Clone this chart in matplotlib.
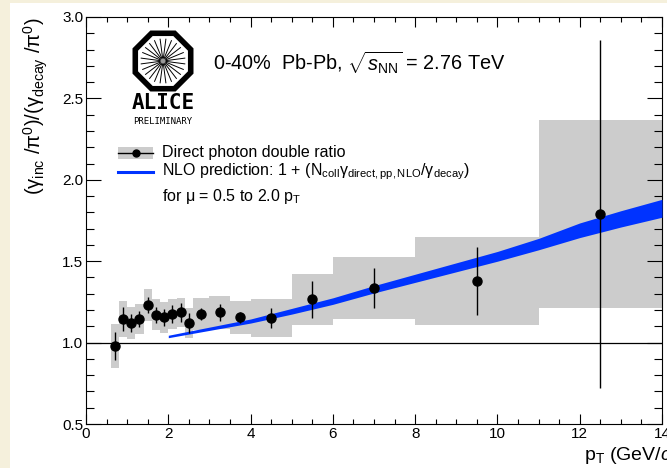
import numpy as np
import matplotlib
matplotlib.use("Agg")
import matplotlib.pyplot as plt
from matplotlib.patches import Rectangle, RegularPolygon, Circle
from matplotlib.ticker import MultipleLocator

plt.rcParams['font.family'] = ['Liberation Sans', 'DejaVu Sans']
plt.rcParams['mathtext.fontset'] = 'custom'
plt.rcParams['mathtext.rm'] = 'Liberation Sans'
plt.rcParams['mathtext.it'] = 'Liberation Sans:italic'
plt.rcParams['mathtext.bf'] = 'Liberation Sans:bold'

# direct photon double ratio, 0-40% Pb-Pb
pt = [0.7, 0.9, 1.1, 1.3, 1.5, 1.7, 1.9, 2.1, 2.3, 2.5, 2.8, 3.25, 3.75,
      4.5, 5.5, 7.0, 9.5, 12.5]
bin_lo = [0.6, 0.8, 1.0, 1.2, 1.4, 1.6, 1.8, 2.0, 2.2, 2.4, 2.6, 3.0, 3.5,
          4.0, 5.0, 6.0, 8.0, 11.0]
bin_hi = [0.8, 1.0, 1.2, 1.4, 1.6, 1.8, 2.0, 2.2, 2.4, 2.6, 3.0, 3.5, 4.0,
          5.0, 6.0, 8.0, 11.0, 14.0]
ratio = [0.98, 1.145, 1.12, 1.145, 1.23, 1.17, 1.155, 1.175, 1.185, 1.12,
         1.175, 1.185, 1.155, 1.15, 1.265, 1.335, 1.38, 1.79]
stat_err = [0.085, 0.075, 0.055, 0.05, 0.05, 0.05, 0.052, 0.056, 0.06,
            0.06, 0.036, 0.053, 0.035, 0.06, 0.113, 0.121, 0.21, 1.07]
sys_err = [0.135, 0.11, 0.1, 0.09, 0.1, 0.095, 0.095, 0.09, 0.09, 0.09,
           0.1, 0.1, 0.1, 0.116, 0.155, 0.19, 0.27, 0.58]

# NLO band (mu = 0.5 .. 2.0 pT)
nlo_pt = [2, 3, 4, 5, 6, 7, 8, 9, 10, 11, 12, 13, 14]
nlo_lo = [1.030, 1.075, 1.120, 1.175, 1.235, 1.305, 1.370, 1.435, 1.500,
          1.570, 1.645, 1.710, 1.770]
nlo_hi = [1.045, 1.095, 1.145, 1.210, 1.275, 1.350, 1.420, 1.490, 1.560,
          1.640, 1.735, 1.810, 1.880]

W, H = 667, 468
fig = plt.figure(figsize=(W / 100, H / 100), dpi=100)
fig.patch.set_facecolor('#f5f0dc')
fig.patches.append(Rectangle((10 / W, 0), 1, (H - 3) / H, transform=fig.transFigure,
                             facecolor='white', edgecolor='none', zorder=-10))

ax = fig.add_axes([86 / W, (H - 424) / H, 576 / W, 407 / H])
ax.set_facecolor('white')

grey = '#cccccc'
blue = '#0033ff'

for lo, hi, y, s in zip(bin_lo, bin_hi, ratio, sys_err):
    ax.add_patch(Rectangle((lo, y - s), hi - lo, 2 * s, facecolor=grey,
                           edgecolor='none', zorder=1))

ax.axhline(1.0, color='black', lw=0.9, zorder=2)
ax.fill_between(nlo_pt, nlo_lo, nlo_hi, color=blue, lw=0, zorder=3)
ax.errorbar(pt, ratio, yerr=stat_err, fmt='o', color='black', ms=6.5,
            elinewidth=1.0, capsize=0, zorder=4)

ax.set_xlim(0, 14)
ax.set_ylim(0.5, 3.0)
ax.xaxis.set_major_locator(MultipleLocator(2))
ax.xaxis.set_minor_locator(MultipleLocator(0.5))
ax.yaxis.set_major_locator(MultipleLocator(0.5))
ax.yaxis.set_minor_locator(MultipleLocator(0.1))
ax.set_yticklabels([f'{v:.1f}' for v in ax.get_yticks()])
ax.tick_params(axis='both', which='both', direction='in', top=True, right=True,
               labelsize=11, width=0.8)
ax.tick_params(axis='y', which='major', length=11, pad=2)
ax.tick_params(axis='y', which='minor', length=5.5)
ax.tick_params(axis='x', which='major', length=7.5, pad=2)
ax.tick_params(axis='x', which='minor', length=3.8)
for sp in ax.spines.values():
    sp.set_linewidth(0.8)

# axis titles
fig.text(36 / W, (H - 17) / H,
         r'(γ$_{\rm inc}$ /π$^{\rm 0}$)/(γ$_{\rm decay}$ /π$^{\rm 0}$)',
         rotation=90, ha='center', va='top', fontsize=14.5)
fig.text(584 / W, (H - 455) / H, r'p$_{\rm T}$ (GeV/$c$)', ha='left', va='center',
         fontsize=14)

# header
ax.text(0.2205, 0.889, r'0-40%  Pb-Pb, $\sqrt{s_{\rm NN}}$ = 2.76 TeV',
        transform=ax.transAxes, ha='left', va='center', fontsize=14.3)

# legend
ax.add_patch(Rectangle((0.0556, 0.651), 0.0607, 0.030, transform=ax.transAxes,
                       facecolor=grey, edgecolor='none', clip_on=False, zorder=5))
ax.plot([0.0556, 0.1163], [0.666, 0.666], color='black', lw=1.0,
        transform=ax.transAxes, clip_on=False, zorder=6)
ax.plot([0.086], [0.666], 'o', color='black', ms=5,
        transform=ax.transAxes, clip_on=False, zorder=6)
ax.text(0.132, 0.666, 'Direct photon double ratio', transform=ax.transAxes,
        ha='left', va='center', fontsize=11.5)
ax.plot([0.0556, 0.1163], [0.619, 0.619], color=blue, lw=2.2,
        transform=ax.transAxes, clip_on=False, zorder=6)
ax.text(0.132, 0.619,
        r'NLO prediction: 1 + (N$_{\rm coll}$γ$_{\rm direct,pp,NLO}$/γ$_{\rm decay}$)',
        transform=ax.transAxes, ha='left', va='center', fontsize=11.5)
ax.text(0.132, 0.558, r'for μ = 0.5 to 2.0 p$_{\rm T}$', transform=ax.transAxes,
        ha='left', va='center', fontsize=11.5)

# experiment logo, drawn in pixel units
logo = fig.add_axes([0, 0, 1, 1], zorder=5)
logo.set_xlim(0, W)
logo.set_ylim(H, 0)
logo.axis('off')
cx, cy = 163, 61
logo.add_patch(RegularPolygon((cx, cy), numVertices=8, radius=30,
                              orientation=np.pi / 8, facecolor='white',
                              edgecolor='black', lw=4))
for ang in np.arange(0, 360, 15) + 7.5:
    a = np.deg2rad(ang)
    logo.plot([cx + 3 * np.cos(a), cx + 22 * np.cos(a)],
              [cy + 3 * np.sin(a), cy + 22 * np.sin(a)], color='black', lw=0.7)
logo.add_patch(Circle((cx, cy), 2.5, facecolor='#999999', edgecolor='none'))
logo.text(cx, 103, 'ALICE', ha='center', va='center', fontsize=15,
          family='DejaVu Sans Mono', weight='bold')
logo.text(cx, 121, 'PRELIMINARY', ha='center', va='center', fontsize=6.5,
          family='DejaVu Sans Mono')

fig.savefig('out.png', dpi=100, facecolor=fig.get_facecolor())
